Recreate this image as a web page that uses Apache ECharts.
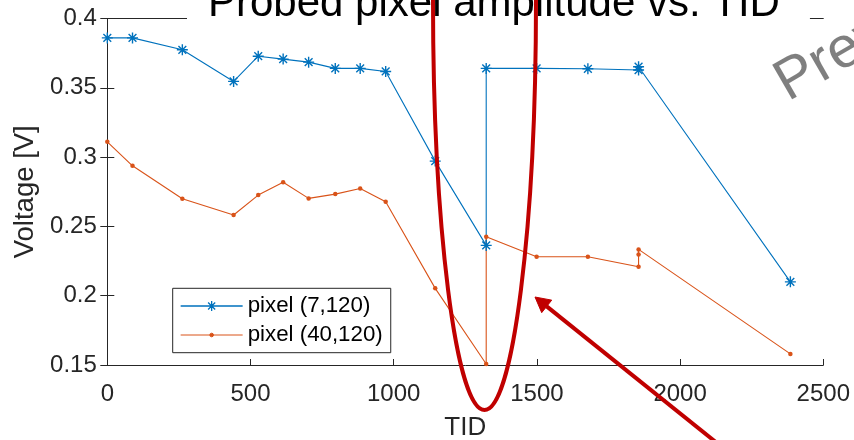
<!DOCTYPE html>
<html>
<head>
<meta charset="utf-8">
<script src="https://cdn.jsdelivr.net/npm/echarts@6/dist/echarts.min.js"></script>
<style>
  html, body { margin: 0; padding: 0; background: #fff; }
  #chart { width: 854px; height: 440px; }
</style>
</head>
<body>
<div id="chart"></div>
<script>
// Total ionizing dose values for each probe of pixel (7,120)
const tidPixel7 = [0, 88, 262, 441, 527, 614, 703, 796, 883, 972, 1145, 1323, 1323, 1499, 1678, 1855, 1855, 2385];
const voltPixel7 = [0.386, 0.386, 0.3774, 0.3546, 0.3728, 0.3707, 0.3685, 0.364, 0.364, 0.3618, 0.2971, 0.2363, 0.364, 0.364, 0.3637, 0.3628, 0.3652, 0.210];

// Total ionizing dose values for each probe of pixel (40,120)
const tidPixel40 = [0, 88, 262, 441, 527, 614, 703, 796, 883, 972, 1145, 1323, 1323, 1499, 1678, 1855, 1855, 1855, 2385];
const voltPixel40 = [0.311, 0.2937, 0.270, 0.2582, 0.2726, 0.2818, 0.2702, 0.2733, 0.2774, 0.2678, 0.2053, 0.1507, 0.2425, 0.2281, 0.2281, 0.2209, 0.2298, 0.2334, 0.158];

const seriesNames = ['pixel (7,120)', 'pixel (40,120)'];
const xTicks = { min: 0, max: 2500, step: 500 };
const yTicks = { min: 0.15, max: 0.4, step: 0.05 };

const FONT = '"Liberation Sans", Arial, sans-serif';
const AX = '#262626';
const BLUE = '#0072BD';
const ORANGE = '#D95319';
const RED = '#C00000';

const pairs = (xs, ys) => xs.map((x, i) => [x, ys[i]]);
const asterisk = 'path://M5,0L5,10M0,5L10,5M1.46,1.46L8.54,8.54M1.46,8.54L8.54,1.46';

// Legend glyphs: a short line sample with the series marker in its middle
const legendBlueIcon = 'path://M0,5L62,5M31,0L31,10M26,5L36,5M27.46,1.46L34.54,8.54M27.46,8.54L34.54,1.46';
const legendOrangeIcon = 'path://M0,2L62,2M29.2,2A1.8,1.8,0,1,0,32.8,2A1.8,1.8,0,1,0,29.2,2Z';

const chart = echarts.init(document.getElementById('chart'), null, { renderer: 'canvas' });

const gridLeft = 107.3, gridRight = 823.3, gridTop = 18.5, gridBottom = 365;

// Arrow pointing at the recovered segment after the jump
const tip = [535, 297];
const dir = [0.780, 0.626];
const headLen = 15, headHalf = 8;
const base = [tip[0] + dir[0] * headLen, tip[1] + dir[1] * headLen];
const perp = [-dir[1], dir[0]];

chart.setOption({
  animation: false,
  backgroundColor: '#fff',
  title: {
    text: 'Probed pixel amplitude vs. TID',
    left: 187,
    top: -17,
    padding: [0, 30, 0, 21],
    backgroundColor: '#fff',
    textStyle: { fontFamily: FONT, fontSize: 42, fontWeight: 'normal', color: '#000', lineHeight: 42 }
  },
  grid: {
    left: gridLeft, right: 854 - gridRight, top: gridTop, bottom: 440 - gridBottom,
    containLabel: false,
    outerBoundsMode: 'none'
  },
  legend: {
    orient: 'vertical',
    left: 172.7,
    top: 288.3,
    padding: [6.7, 8, 6.7, 7.3],
    itemGap: 7,
    itemWidth: 62,
    itemHeight: 12,
    symbolKeepAspect: true,
    backgroundColor: '#fff',
    borderColor: AX,
    borderWidth: 1,
    borderRadius: 0,
    data: [{
      name: seriesNames[0],
      icon: legendBlueIcon,
      itemStyle: { color: BLUE, borderColor: BLUE, borderWidth: 1.3 }
    }, {
      name: seriesNames[1],
      icon: legendOrangeIcon,
      itemStyle: { color: ORANGE, borderColor: ORANGE, borderWidth: 1 }
    }],
    textStyle: { fontFamily: FONT, fontSize: 22.3, color: '#000', lineHeight: 22 }
  },
  xAxis: [{
    type: 'value',
    min: xTicks.min, max: xTicks.max, interval: xTicks.step,
    name: 'TID',
    nameLocation: 'middle',
    nameGap: 50,
    nameTextStyle: { fontFamily: FONT, fontSize: 26, color: AX },
    axisLine: { show: true, lineStyle: { color: AX, width: 1 } },
    axisTick: { show: true, inside: true, length: 6, lineStyle: { color: AX } },
    axisLabel: { fontFamily: FONT, fontSize: 24, color: AX, margin: 17, formatter: v => String(v) },
    splitLine: { show: false }
  }, {
    type: 'value',
    position: 'top',
    min: xTicks.min, max: xTicks.max, interval: xTicks.step,
    axisLine: { show: true, lineStyle: { color: AX, width: 1 } },
    axisTick: { show: false },
    axisLabel: { show: false },
    splitLine: { show: false }
  }],
  yAxis: [{
    type: 'value',
    min: yTicks.min, max: yTicks.max, interval: yTicks.step,
    name: 'Voltage [V]',
    nameLocation: 'middle',
    nameGap: 66,
    nameTextStyle: { fontFamily: FONT, fontSize: 27.5, color: AX },
    axisLine: { show: true, lineStyle: { color: AX, width: 1 } },
    axisTick: { show: true, inside: true, length: 7, lineStyle: { color: AX } },
    axisLabel: {
      fontFamily: FONT, fontSize: 24, color: AX, margin: 10.5,
      formatter: v => String(parseFloat(v.toFixed(2)))
    },
    splitLine: { show: false }
  }, {
    type: 'value',
    position: 'right',
    min: yTicks.min, max: yTicks.max, interval: yTicks.step,
    axisLine: { show: true, lineStyle: { color: AX, width: 1 } },
    axisTick: { show: true, inside: true, length: 7, lineStyle: { color: AX } },
    axisLabel: { show: false },
    splitLine: { show: false }
  }],
  series: [{
    name: seriesNames[0],
    type: 'line',
    data: pairs(tidPixel7, voltPixel7),
    symbol: asterisk,
    symbolSize: 11,
    showAllSymbol: true,
    lineStyle: { color: BLUE, width: 1.1 },
    itemStyle: { color: BLUE, borderColor: BLUE, borderWidth: 1.4 },
    emphasis: { disabled: true }
  }, {
    name: seriesNames[1],
    type: 'line',
    data: pairs(tidPixel40, voltPixel40),
    symbol: 'circle',
    symbolSize: 4.5,
    showAllSymbol: true,
    lineStyle: { color: ORANGE, width: 1.1 },
    itemStyle: { color: ORANGE, borderWidth: 0 },
    emphasis: { disabled: true }
  }],
  graphic: [{
    type: 'ellipse',
    z: 100,
    shape: { cx: 484.5, cy: 0, rx: 51.5, ry: 410 },
    style: { fill: 'none', stroke: RED, lineWidth: 4 }
  }, {
    type: 'line',
    z: 100,
    shape: { x1: base[0], y1: base[1], x2: tip[0] + dir[0] * 250, y2: tip[1] + dir[1] * 250 },
    style: { stroke: RED, lineWidth: 4 }
  }, {
    type: 'polygon',
    z: 100,
    shape: {
      points: [
        tip,
        [base[0] + perp[0] * headHalf, base[1] + perp[1] * headHalf],
        [base[0] - perp[0] * headHalf, base[1] - perp[1] * headHalf]
      ]
    },
    style: { fill: RED, stroke: RED, lineWidth: 1 }
  }, {
    type: 'text',
    z: 100,
    x: 780,
    y: 88,
    rotation: Math.PI / 6,
    style: {
      text: 'Preview',
      fontFamily: FONT,
      fontSize: 58,
      fill: 'rgba(0,0,0,0.5)',
      textAlign: 'left',
      textVerticalAlign: 'middle'
    }
  }]
});
</script>
</body>
</html>
